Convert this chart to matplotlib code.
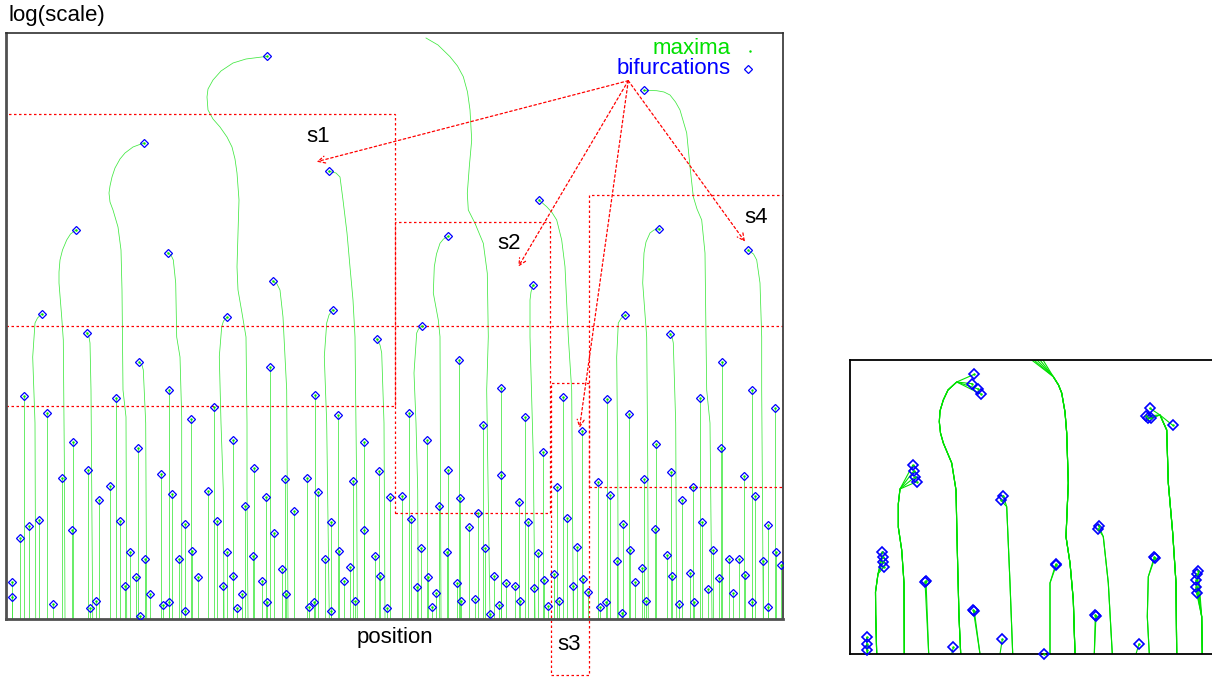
import matplotlib
matplotlib.use("Agg")
import matplotlib.pyplot as plt
from matplotlib.patches import Rectangle

plt.rcParams['font.family'] = ['Liberation Sans', 'DejaVu Sans']

# --- main panel: short maxima lines (bifurcation point, line goes straight down) ---
short_pos = [18, 110.3, 163.3, 41, 185.3, 66.7, 132, 81.7, 55.7, 155, 104.3, 92.7, 166,
             13.7, 23.3, 33.3, 66, 113.7, 179.3, 124.3, 139.3, 173.3, 186.3, 129.7, 119.3,
             191.7, 6.3, 5.7, 46.7, 84.3, 90, 144.3, 157, 163, 178.7, 134.3,
             309, 208, 332, 263.7, 227, 358.3, 247.7, 278.7, 301, 347, 373, 201.7, 259.7,
             312, 384.3, 238.7, 288, 210.7, 325, 268.3, 357.7, 221, 247, 332.7, 319.3, 369,
             275.7, 343.7, 227, 217, 256, 338, 374.3, 236.3, 280.3, 260.7, 231.3, 303, 308.3,
             324.7, 348.7, 381.3,
             403, 519, 477.3, 557.3, 576, 495.3, 453, 421.3, 537, 442, 494.7, 551, 395.7,
             454, 433, 512.7, 405, 472, 462.7, 521.7, 560.7, 415.3, 441, 479.3, 532, 571,
             421.7, 411.3, 451, 488, 500.3, 509, 528, 538, 547.7, 566.7, 576.7, 582, 430.3,
             425.7, 455, 469.3, 492.7, 484, 513.7, 542.3, 552.7,
             716, 746.3, 601.3, 623, 694, 768.7, 650, 714.7, 664.7, 638.3, 737.7, 592.3,
             686.7, 603.7, 675.7, 749.3, 616.7, 649, 696.3, 762, 624.3, 660.7, 706.7, 769.7,
             611, 635.7, 722.7, 733.3, 756.7, 666.3, 683.7, 713, 739, 775.3, 629.3, 702.3,
             727.3, 594.3, 600, 616.3, 639.7, 673, 688.3, 745.7, 761.7]
short_lvl = [222.7, 220.7, 228.7, 206.3, 200.3, 176.7, 171.3, 149.3, 140.7, 145, 133, 118.7, 125.3,
             80.7, 93.3, 99, 89, 98, 94.7, 67, 59.7, 59.7, 68.3, 42, 33.3,
             42, 36.7, 22.3, 14.7, 11.3, 17.7, 24.7, 14, 17, 8, 2.7,
             223.7, 212, 204, 252.3, 179, 176.7, 150.7, 139.7, 140.7, 138.3, 148.3, 127.7, 122,
             126.7, 122, 113, 107.7, 98, 97, 85.7, 89.3, 67.3, 63, 68.3, 59.7, 63,
             49.7, 52, 43.3, 33.3, 37.7, 37.7, 43.3, 24.7, 24.7, 16.7, 11.3, 12.3, 16.7,
             8, 17.7, 11.3,
             206.3, 202.3, 194.3, 222, 188, 230.7, 259, 179, 166.7, 149.3, 144, 132, 123,
             120.7, 113, 116.7, 100, 105.7, 92.3, 96.7, 101, 70.7, 67, 70.7, 66, 71.7,
             42, 32.3, 36.3, 43, 35.7, 33.3, 31, 38.7, 45.3, 33.3, 40.3, 26.7, 25.7,
             11.7, 17.7, 20.3, 13.7, 5, 17.7, 13, 17.7,
             257, 228.7, 219.7, 205.3, 221, 211, 174.7, 171.3, 147.3, 139.7, 143, 137.3,
             132, 124, 118.7, 123, 94.7, 90.3, 97, 93.7, 69.3, 63.7, 69.3, 67.3,
             58.3, 50.7, 59.7, 59.7, 58.3, 43.3, 46, 41, 44, 54, 37.3, 30,
             25.7, 12.3, 17.3, 6, 18, 15, 16.7, 16.7, 11.7]

# --- main panel: tall maxima lines, first point is the bifurcation ---
tall_lines = [
    [(261.3, 562.7), (240, 560), (227, 556), (215, 548), (207, 539), (202, 530), (201, 522),
     (202, 509), (207, 500), (214, 492), (221, 482), (226, 472), (229, 460), (231, 446),
     (233, 419), (232, 386), (231, 352), (232, 329), (236, 306), (240, 282),
     (241, 196), (241, 129), (242, 0)],
    [(137.7, 476), (127, 472), (119, 466), (114, 460), (109, 451), (106, 442), (104, 433),
     (103, 426), (104, 417), (107, 409), (112, 392), (115, 369), (116, 329), (117, 229),
     (120, 202), (120.7, 0)],
    [(70.3, 389.3), (64.5, 385), (60.7, 379), (56.5, 369), (54, 359), (53, 347), (53, 336),
     (55.7, 302), (57.3, 279), (58.3, 162), (59, 0)],
    [(161.7, 366.3), (165, 364), (167.3, 359), (169.7, 336), (170.7, 282), (174, 262),
     (175.7, 202), (175.7, 0)],
    [(266.7, 338), (271, 335), (274, 329), (277, 302), (278, 282), (280.7, 229), (282, 0)],
    [(35.7, 305), (31.5, 301), (29, 296), (26.7, 262), (29, 196), (29.7, 0)],
    [(80.7, 286.3), (83, 282), (84, 276), (85, 229), (86.7, 0)],
    [(133.3, 257), (136, 254), (137.3, 249), (139.7, 196), (140.7, 0)],
    [(221, 301.7), (217.5, 298), (215.7, 292.3), (213.3, 262.3), (215, 196), (217.3, 129), (218, 0)],
    [(326.7, 309.3), (323, 304), (320.7, 296), (318.3, 262.3), (320.7, 196), (323.3, 0)],
    [(370.7, 280), (374, 274), (375.7, 266), (378, 196), (379, 0)],
    [(323, 447.7), (330, 446), (334, 442), (337, 419), (341, 386), (344, 352), (347, 319),
     (349, 282), (350.7, 129), (351.3, 0)],
    [(442.3, 382.7), (437.5, 380), (434, 375.7), (430.5, 365), (428.3, 352.3), (427.3, 326),
     (432.3, 299), (434, 282.3), (435, 0)],
    [(527, 333.7), (525, 327), (524, 319), (524, 282), (527.3, 162), (529, 0)],
    [(533, 419), (540.7, 412.3), (546, 406.5), (550.7, 399), (555.7, 379), (559, 352.3),
     (562.3, 282.3), (565.7, 229), (567.3, 0)],
    [(415.7, 293), (412.5, 290), (410.7, 286), (408, 246), (410, 196), (411.7, 129), (412.3, 0)],
    [(638, 528.7), (650.7, 528.3), (658, 527), (664, 524), (669.5, 517), (674, 509),
     (680.7, 486), (684, 452.3), (687.3, 422.3), (691, 410), (695.7, 399), (699, 366),
     (700, 282.3), (700.7, 229), (704, 196), (706, 0)],
    [(653, 390.3), (648, 389), (644, 386), (640, 377), (638, 366), (636.7, 336),
     (640.7, 282), (641.7, 162), (642.3, 0)],
    [(742.3, 368.7), (747.5, 365), (750.7, 359), (754, 336), (755.7, 282), (755.7, 229), (757.3, 0)],
    [(619, 304), (615, 300.5), (612.3, 296), (610.7, 262), (611.7, 162), (612.3, 0)],
    [(664, 285.3), (666.3, 281), (667.3, 276), (669.7, 196), (670.7, 0)],
]
# line entering from above the plotted range (no bifurcation inside)
open_line = [(420, 581), (432, 574), (444, 562.3), (451.5, 553), (457.3, 542.3), (461.5, 527),
             (464, 509), (465.7, 479), (463.3, 452.3), (461.3, 425.7), (462.3, 409),
             (469, 395.7), (477.3, 375.7), (481.3, 345.7), (482.3, 282.3), (480.7, 229), (484, 0)]

# zoom regions s1..s4 (x0, x1, y0, y1) and the extra cut level
zoom_names = ['s1', 's2', 's3', 's4']
zoom_boxes = [(0, 389, 213, 505), (389, 544, 105.7, 397.3), (544.7, 583.3, -56, 235.7), (583.3, 777, 132.3, 424)]
zoom_targets = [(310.7, 457.3), (512.3, 352.3), (573.5, 191), (739, 377.3)]
zoom_label_at = [(312.3, 483), (503, 375.7), (563, -26), (750, 401.7)]
arrow_origin = (622.3, 538.3)
cut_level = 293.3

# --- inset: bundles of maxima lines from noisy copies ---
inset_tips = [
    [(16.7, 16.7), (16.7, 10), (17.3, 4)],
    [(32.3, 101.7), (32.7, 97.3), (33.3, 92.3), (34, 87.3)],
    [(62.7, 188.7), (64, 183.3), (65.3, 177.3), (66.7, 172.3)],
    [(76, 73.3), (75, 72.3)],
    [(103.3, 6.7)],
    [(124.3, 279.7), (122, 270.3), (128.3, 265), (130.7, 260)],
    [(124.3, 43), (123.3, 44)],
    [(150.7, 154), (153.3, 158.3)],
    [(152.3, 14.7)],
    [(206.3, 88.7), (205.7, 89.7)],
    [(248.7, 128.3), (248.3, 125)],
    [(246, 38.3), (245.3, 39)],
    [(289, 10)],
    [(305, 96.3), (304.3, 97)],
    [(300, 245.7), (296, 238), (298.3, 235.7), (301, 235.7), (322.7, 228.7)],
    [(348.3, 83.3), (346.7, 80), (346, 74), (346, 67.3), (346.7, 60.7)],
]
inset_tails = [
    [(17.3, 0)],
    [(28, 80), (25.5, 62), (25.7, 40), (26.7, 0)],
    [(50, 165), (48.3, 150), (48.3, 127), (51.7, 104), (54, 71), (54.3, 0)],
    [(78.7, 0)],
    [(101.7, 0)],
    [(106.7, 272), (98, 264), (93.3, 254), (90, 243), (89.3, 232.3), (90.5, 221), (93.3, 211),
     (101.7, 191), (106, 164), (107.3, 104), (109, 37.3), (110.7, 0)],
    [(130, 0)],
    [(156.7, 147.3), (160, 71), (162.7, 0)],
    [(150, 0)],
    [(200, 71), (200, 0)],
    [(253.3, 117.3), (258.3, 71), (262.3, 0)],
    [(244.3, 0)],
    [(286, 0)],
    [(298.3, 77.3), (297.3, 37.3), (299.3, 0)],
    [(310, 239), (316.7, 224), (318.3, 171), (322.7, 121), (326, 71), (326.7, 0)],
    [(351.7, 37.3), (352.3, 0)],
]
inset_open_starts = [(181.7, 294), (184, 294), (187, 294), (190, 294), (193, 294)]
inset_open_tail = [(203.3, 277.3), (208.5, 269), (211.7, 261), (215, 242), (216.7, 221),
                   (218.3, 171), (216, 117.3), (220, 91), (223.3, 54), (225, 0)]
inset_lone = [(194, 0)]

LINE_GREEN = '#3fe83f'
GREEN = '#00e000'
BLUE = '#0000ff'
RED = '#ff0000'
FS = 16

fig = plt.figure(figsize=(12.12, 6.79), dpi=100)
fig.patch.set_facecolor('w')

W, H = 1212.0, 679.0
ax = fig.add_axes([6 / W, (H - 619) / H, 777 / W, 586 / H])
ax.set_xlim(0, 777)
ax.set_ylim(0, 586)
ax.set_xticks([])
ax.set_yticks([])

# maxima lines
for p, l in zip(short_pos, short_lvl):
    ax.plot([p, p], [l, 0], color=LINE_GREEN, lw=0.55, zorder=1)
for line in tall_lines:
    xs, ys = zip(*line)
    ax.plot(xs, ys, color=LINE_GREEN, lw=0.55, zorder=1)
xs, ys = zip(*open_line)
ax.plot(xs, ys, color=LINE_GREEN, lw=0.55, zorder=1)

# bifurcation markers
bx = list(short_pos) + [ln[0][0] for ln in tall_lines]
by = list(short_lvl) + [ln[0][1] for ln in tall_lines]
ax.plot(bx, by, ls='none', marker='D', ms=4.4, mfc='none', mec=BLUE, mew=0.9, zorder=3)
ax.plot(bx, by, ls='none', marker='.', ms=1.5, color=GREEN, zorder=3)

# zoom boxes and arrows
dash = (0, (2, 2))
for (x0, x1, y0, y1), name in zip(zoom_boxes, zoom_names):
    ax.add_patch(Rectangle((x0, y0), x1 - x0, y1 - y0, fill=False, ec=RED, lw=0.9,
                           ls=dash, zorder=2, clip_on=(name != 's3')))
ax.plot([0, 777], [cut_level, cut_level], color=RED, lw=0.9, ls=dash, zorder=2)
for tgt, lab, name in zip(zoom_targets, zoom_label_at, zoom_names):
    ax.annotate('', xy=tgt, xytext=arrow_origin,
                arrowprops=dict(arrowstyle='->,head_length=0.5,head_width=0.25', color=RED,
                                lw=0.9, ls=dash, shrinkA=0, shrinkB=0), zorder=2)
    ax.text(lab[0], lab[1], name, fontsize=FS, ha='center', va='center', clip_on=False)

# legend
ax.text(0.933, 0.974, 'maxima', color=GREEN, fontsize=FS, ha='right', va='center', transform=ax.transAxes)
ax.text(0.933, 0.939, 'bifurcations', color=BLUE, fontsize=FS, ha='right', va='center', transform=ax.transAxes)
ax.plot([0.957], [0.970], transform=ax.transAxes, marker='.', ms=1.5, color=GREEN)
ax.plot([0.955], [0.939], transform=ax.transAxes, marker='D', ms=4.4, mfc='none', mec=BLUE, mew=0.9)

for side in ['left', 'bottom']:
    ax.spines[side].set_color('#505050')
    ax.spines[side].set_linewidth(2)
for side in ['top', 'right']:
    ax.spines[side].set_color('#303030')
    ax.spines[side].set_linewidth(1.2)

fig.text(8 / W, 1 - 16 / H, 'log(scale)', fontsize=FS, ha='left', va='center')
fig.text(395 / W, 1 - 638 / H, 'position', fontsize=FS, ha='center', va='center')

# inset
ax2 = fig.add_axes([850 / W, (H - 654) / H, 364 / W, 294 / H])
ax2.set_xlim(0, 364)
ax2.set_ylim(0, 294)
ax2.set_xticks([])
ax2.set_yticks([])
for tips, tail in zip(inset_tips, inset_tails):
    for t in tips:
        xs, ys = zip(*([t] + tail))
        ax2.plot(xs, ys, color=GREEN, lw=0.8, zorder=1)
for s in inset_open_starts:
    xs, ys = zip(*([s] + inset_open_tail))
    ax2.plot(xs, ys, color=GREEN, lw=0.8, zorder=1)
ix = [t[0] for tips in inset_tips for t in tips] + [p[0] for p in inset_lone]
iy = [t[1] for tips in inset_tips for t in tips] + [p[1] for p in inset_lone]
ax2.plot(ix, iy, ls='none', marker='D', ms=4.6, mfc='none', mec=BLUE, mew=1.2, zorder=3, clip_on=False)
ax2.plot(ix, iy, ls='none', marker='.', ms=1.5, color=GREEN, zorder=3, clip_on=False)
for side in ax2.spines.values():
    side.set_color('black')
    side.set_linewidth(1.3)

fig.savefig('out.png', dpi=100, facecolor='w')
